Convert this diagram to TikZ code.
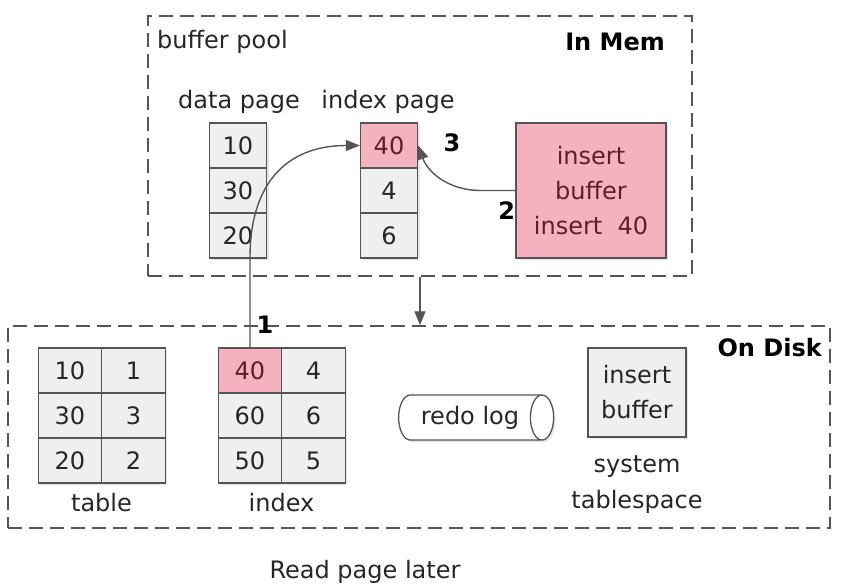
\documentclass[tikz,border=0pt]{standalone}
\usepackage{fontspec}
\setmainfont{DejaVu Sans}
\usetikzlibrary{arrows.meta, positioning, shapes.geometric, shadows}
\usepackage{xcolor}
\definecolor{edgegray}{HTML}{555555}
\definecolor{cellgray}{HTML}{EFEFEF}
\definecolor{pagepink}{HTML}{F4B2C1}
\definecolor{pinktext}{HTML}{5A1E2C}

\begin{document}
\begin{tikzpicture}[x=1pt,y=1pt,>={Triangle[length=14pt,width=11pt]},font=\fontsize{24}{29}\selectfont]
    \tikzstyle{area}=[draw=edgegray, line width=1.5pt, dash pattern=on 14pt off 7pt, inner sep=0pt]
    \tikzstyle{soft}=[drop shadow={shadow xshift=2pt, shadow yshift=-2pt, opacity=0.2}]
    \tikzstyle{cell}=[draw=edgegray, line width=1.3pt, fill=cellgray, inner sep=0pt, minimum height=45pt, text=black!85]
    \tikzstyle{col cell}=[cell, minimum width=57pt]
    \tikzstyle{grid cell}=[cell, minimum width=63.5pt]
    \tikzstyle{hot}=[fill=pagepink, text=pinktext]
    \tikzstyle{flow}=[->, draw=edgegray, line width=1.4pt]
    \tikzstyle{stepnum}=[font=\fontsize{24}{29}\selectfont\bfseries, inner sep=0pt]
    \tikzstyle{title}=[font=\fontsize{24}{29}\selectfont\bfseries, inner sep=0pt]
    \tikzstyle{caption}=[inner sep=0pt, text=black!85]

    \useasboundingbox (0,0) rectangle (858,-586);

    % buffer pool
    \node[area, minimum width=544pt, minimum height=260pt] (mem) at (420,-146) {};
    \node[caption, anchor=west] (bp) at (157,-42) {buffer pool};
    \node[title, anchor=east] (inmem) at (665,-42) {In Mem};

    \node[caption] (dplabel) at (239,-102) {data page};
    \node[caption] (iplabel) at (388,-102) {index page};

    \node[col cell, soft] (d1) at (238,-145.5) {10};
    \node[col cell, soft] (d2) at (238,-190.5) {30};
    \node[col cell, soft] (d3) at (238,-235.5) {20};

    \node[col cell, hot, soft] (p1) at (389,-145.5) {40};
    \node[col cell, soft] (p2) at (389,-190.5) {4};
    \node[col cell, soft] (p3) at (389,-235.5) {6};

    \node[draw=edgegray, line width=1.3pt, fill=pagepink, text=pinktext, soft, minimum width=150pt, minimum height=135pt, align=center, font=\fontsize{24}{35}\selectfont] (ib) at (591,-190.5) {insert\\buffer\\insert\ \ 40};

    % disk
    \node[area, minimum width=822pt, minimum height=202pt] (disk) at (419,-427) {};
    \node[title, anchor=east] (ondisk) at (822,-348) {On Disk};

    \node[grid cell, soft] (t11) at (70,-370.5) {10};
    \node[grid cell, soft] (t12) at (133.5,-370.5) {1};
    \node[grid cell, soft] (t21) at (70,-415.5) {30};
    \node[grid cell, soft] (t22) at (133.5,-415.5) {3};
    \node[grid cell, soft] (t31) at (70,-460.5) {20};
    \node[grid cell, soft] (t32) at (133.5,-460.5) {2};
    \node[caption] (tlabel) at (101.5,-503) {table};

    \node[grid cell, hot, soft] (i11) at (250,-370.5) {40};
    \node[grid cell, soft] (i12) at (313.5,-370.5) {4};
    \node[grid cell, soft] (i21) at (250,-415.5) {60};
    \node[grid cell, soft] (i22) at (313.5,-415.5) {6};
    \node[grid cell, soft] (i31) at (250,-460.5) {50};
    \node[grid cell, soft] (i32) at (313.5,-460.5) {5};
    \node[caption] (ilabel) at (281.5,-503) {index};

    \node[cylinder, draw=edgegray, line width=1.3pt, fill=white, soft, minimum height=155pt, minimum width=45pt, aspect=1.0, inner sep=0pt, text=black!85] (redo) at (470,-417.5) {redo log};

    \node[draw=edgegray, line width=1.3pt, fill=cellgray, soft, minimum width=98pt, minimum height=89pt, align=center, inner sep=0pt, text=black!85, font=\fontsize{24}{35}\selectfont] (dib) at (637,-392.5) {insert\\buffer};
    \node[caption, align=center, font=\fontsize{24}{36}\selectfont, below=18pt of dib] (sys) {system\\tablespace};

    \node[caption] (later) at (365,-572) {Read page later};

    % steps
    \draw[flow] (i11.north) -- ++(0,90) to[out=90,in=180,looseness=1.2] (p1.west);
    \draw[flow] (ib.west) -- ++(-35,0) to[out=180,in=-70] (p1.east);
    \draw[flow] (mem.south) -- (disk.north -| mem.south);

    \node[stepnum] (s1) at (265,-325) {1};
    \node[stepnum, anchor=east] (s2) at ([yshift=-20pt]ib.west) {2};
    \node[stepnum] (s3) at (452,-143) {3};
\end{tikzpicture}
\end{document}
